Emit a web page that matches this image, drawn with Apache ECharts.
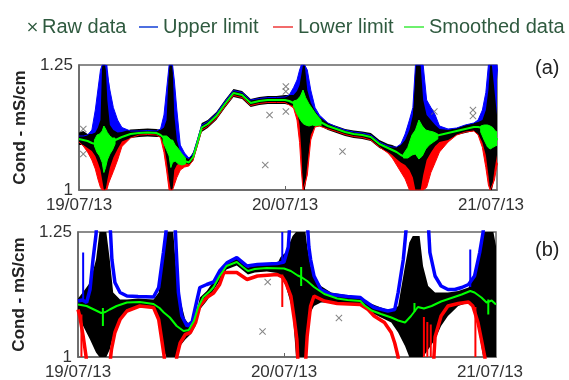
<!DOCTYPE html>
<html>
<head>
<meta charset="utf-8">
<script src="https://cdn.jsdelivr.net/npm/echarts@6/dist/echarts.min.js"></script>
<style>
  html, body { margin: 0; padding: 0; background: #fff; }
  #chart { width: 569px; height: 380px; }
</style>
</head>
<body>
<div id="chart"></div>
<script>
// hours since 19/07/13 00:00
const tickHours = [0, 24, 48];
const tickLabels = ['19/07/13', '20/07/13', '21/07/13'];

// ---- panel (a) : one time grid shared by all curves
const hoursA = [0, 0.5, 1, 1.5, 1.9, 2.2, 2.5, 2.7, 2.9, 3.1, 3.3, 3.6, 4, 4.5, 5, 6, 7, 8, 9, 9.5,
  9.9, 10.2, 10.5, 10.7, 10.9, 11.1, 11.4, 11.8, 12.3, 12.8, 13.3, 13.8, 14.3, 15, 16, 17, 18, 19, 20, 21,
  22, 23, 24, 24.5, 25, 25.4, 25.7, 25.9, 26.1, 26.3, 26.6, 27, 27.5, 28, 29, 30, 31, 32, 33, 34,
  35, 36, 36.5, 37, 37.5, 38, 38.5, 38.9, 39.2, 39.4, 39.6, 39.8, 40.1, 40.5, 41, 41.5, 42, 43, 44, 45,
  46, 46.5, 47, 47.4, 47.7, 47.9, 48.1, 48.4, 48.7, 49];
const smoothA = [1.102, 1.100, 1.098, 1.094, 1.092, 1.090, 1.088, 1.087, 1.086, 1.088,
  1.090, 1.094, 1.098, 1.102, 1.106, 1.112, 1.114, 1.115, 1.114, 1.110,
  1.104, 1.098, 1.090, 1.088, 1.084, 1.080, 1.074, 1.066, 1.058, 1.055,
  1.066, 1.095, 1.125, 1.132, 1.148, 1.172, 1.194, 1.190, 1.174, 1.178,
  1.180, 1.180, 1.180, 1.178, 1.174, 1.170, 1.168, 1.166, 1.164, 1.160,
  1.154, 1.148, 1.142, 1.137, 1.128, 1.122, 1.116, 1.112, 1.110, 1.106,
  1.092, 1.084, 1.080, 1.076, 1.070, 1.066, 1.072, 1.082, 1.092, 1.096,
  1.100, 1.102, 1.104, 1.106, 1.107, 1.108, 1.110, 1.114, 1.118, 1.122,
  1.126, 1.126, 1.124, 1.116, 1.110, 1.106, 1.104, 1.104, 1.102, 1.100];
const upperA = [1.108, 1.108, 1.110, 1.120, 1.160, 1.200, 1.240, 1.250, 1.250, 1.250,
  1.250, 1.200, 1.165, 1.140, 1.125, 1.118, 1.118, 1.119, 1.118, 1.122,
  1.150, 1.200, 1.250, 1.250, 1.250, 1.220, 1.160, 1.090, 1.074, 1.064,
  1.072, 1.100, 1.130, 1.137, 1.153, 1.177, 1.199, 1.195, 1.180, 1.183,
  1.185, 1.185, 1.186, 1.190, 1.205, 1.220, 1.240, 1.250, 1.250, 1.250,
  1.240, 1.200, 1.165, 1.150, 1.134, 1.126, 1.120, 1.116, 1.114, 1.110,
  1.096, 1.088, 1.086, 1.086, 1.092, 1.112, 1.140, 1.165, 1.250, 1.250,
  1.250, 1.250, 1.250, 1.180, 1.165, 1.150, 1.128, 1.122, 1.124, 1.130,
  1.134, 1.140, 1.160, 1.195, 1.250, 1.250, 1.250, 1.250, 1.250, 1.200];
const lowerA = [1.096, 1.088, 1.076, 1.060, 1.042, 1.022, 1.005, 1.000, 1.000, 1.000,
  1.000, 1.020, 1.037, 1.060, 1.087, 1.104, 1.110, 1.111, 1.110, 1.105,
  1.075, 1.040, 1.000, 1.000, 1.000, 1.010, 1.025, 1.040, 1.046, 1.048,
  1.060, 1.090, 1.120, 1.127, 1.143, 1.167, 1.189, 1.185, 1.169, 1.173,
  1.175, 1.175, 1.175, 1.170, 1.164, 1.140, 1.095, 1.040, 1.000, 1.000,
  1.030, 1.100, 1.126, 1.128, 1.122, 1.117, 1.111, 1.107, 1.105, 1.100,
  1.086, 1.074, 1.064, 1.050, 1.036, 1.022, 1.000, 1.000, 1.000, 1.000,
  1.000, 1.000, 1.000, 1.005, 1.035, 1.055, 1.076, 1.096, 1.110, 1.116,
  1.118, 1.110, 1.085, 1.045, 1.010, 1.000, 1.000, 1.020, 1.050, 1.060];
const rawHiA = [1.115, 1.118, 1.112, 1.112, 1.115, 1.125, 1.140, 1.250, 1.250, 1.250,
  1.180, 1.130, 1.120, 1.115, 1.116, 1.121, 1.122, 1.123, 1.122, 1.120,
  1.125, 1.140, 1.250, 1.250, 1.250, 1.150, 1.100, 1.075, 1.066, 1.062,
  1.076, 1.104, 1.134, 1.140, 1.156, 1.180, 1.202, 1.198, 1.182, 1.186,
  1.188, 1.188, 1.190, 1.190, 1.190, 1.198, 1.210, 1.230, 1.250, 1.250,
  1.200, 1.175, 1.158, 1.146, 1.134, 1.128, 1.122, 1.119, 1.117, 1.114,
  1.100, 1.092, 1.090, 1.086, 1.090, 1.100, 1.120, 1.150, 1.250, 1.250,
  1.250, 1.250, 1.180, 1.150, 1.140, 1.130, 1.122, 1.120, 1.124, 1.130,
  1.134, 1.136, 1.140, 1.160, 1.200, 1.250, 1.250, 1.200, 1.150, 1.130];
const rawLoA = [1.090, 1.090, 1.084, 1.078, 1.068, 1.055, 1.040, 1.020, 1.000, 1.000,
  1.020, 1.045, 1.065, 1.082, 1.097, 1.104, 1.106, 1.107, 1.106, 1.106,
  1.090, 1.060, 1.020, 1.000, 1.000, 1.040, 1.050, 1.055, 1.054, 1.051,
  1.058, 1.086, 1.116, 1.124, 1.140, 1.164, 1.186, 1.182, 1.166, 1.170,
  1.172, 1.172, 1.172, 1.170, 1.168, 1.158, 1.130, 1.080, 1.000, 1.000,
  1.050, 1.110, 1.128, 1.129, 1.120, 1.114, 1.108, 1.104, 1.102, 1.098,
  1.084, 1.076, 1.070, 1.062, 1.055, 1.050, 1.040, 1.025, 1.000, 1.000,
  1.000, 1.000, 1.030, 1.060, 1.075, 1.088, 1.096, 1.100, 1.110, 1.114,
  1.118, 1.112, 1.095, 1.070, 1.030, 1.000, 1.000, 1.040, 1.070, 1.080];
// [hour, low, high] of the noisy smoothed data round each spike
const greenNoiseA = [[1.8, 1.088, 1.1], [2.1, 1.075, 1.11], [2.4, 1.068, 1.112], [2.7, 1.055, 1.118],
  [2.9, 1.035, 1.128], [3.1, 1.045, 1.122], [3.3, 1.06, 1.115], [3.6, 1.072, 1.108], [3.9, 1.08, 1.104],
  [4.2, 1.092, 1.104], [9.8, 1.096, 1.108], [10.2, 1.08, 1.108], [10.5, 1.068, 1.104], [10.7, 1.045, 1.1],
  [10.9, 1.055, 1.1], [11.2, 1.058, 1.09], [11.6, 1.052, 1.082], [12.0, 1.05, 1.072], [12.4, 1.052, 1.064],
  [25.0, 1.166, 1.178], [25.4, 1.152, 1.18], [25.8, 1.14, 1.188], [26.1, 1.133, 1.2], [26.4, 1.13, 1.185],
  [26.8, 1.128, 1.172], [27.2, 1.13, 1.162], [27.6, 1.128, 1.152], [28.2, 1.128, 1.14],
  [37.8, 1.064, 1.072], [38.3, 1.064, 1.085], [38.8, 1.07, 1.11], [39.2, 1.072, 1.12], [39.6, 1.062, 1.14],
  [40.0, 1.068, 1.128], [40.4, 1.082, 1.12], [40.8, 1.09, 1.118], [41.3, 1.096, 1.116], [41.8, 1.102, 1.112],
  [46.8, 1.116, 1.128], [47.2, 1.1, 1.13], [47.6, 1.086, 1.13], [47.9, 1.082, 1.128], [48.2, 1.085, 1.125],
  [48.5, 1.088, 1.118], [48.8, 1.09, 1.115]];
const outliersA = [[0.5, 1.122], [0.5, 1.072], [24.1, 1.207], [24.1, 1.197], [24.1, 1.157], [22.2, 1.15],
  [21.7, 1.05], [30.7, 1.077], [41.4, 1.157], [45.9, 1.16], [45.9, 1.148]];

// ---- panel (b) : [hour, value] pairs
const smoothB = [[0, 1.105], [1, 1.102], [2.1, 1.093], [2.7, 1.088], [2.9, 1.085], [3.2, 1.09], [3.7, 1.095],
  [4.5, 1.102], [5.7, 1.109], [7.2, 1.11], [8.8, 1.106], [9.5, 1.098], [10, 1.089], [10.7, 1.079], [11.5, 1.062],
  [12.3, 1.052], [12.9, 1.054], [13.5, 1.072], [14, 1.1], [14.6, 1.12], [15.4, 1.132], [15.8, 1.14], [16.5, 1.162],
  [17.3, 1.182], [18.5, 1.19], [19.2, 1.18], [19.8, 1.172], [20.6, 1.176], [22, 1.178], [24, 1.177], [24.8, 1.172],
  [25.6, 1.163], [26, 1.16], [26.7, 1.152], [27.5, 1.14], [28.7, 1.126], [30.2, 1.117], [31.4, 1.114], [32.9, 1.112],
  [33.4, 1.103], [34.2, 1.093], [35.3, 1.086], [36.5, 1.079], [37.3, 1.073], [38.1, 1.069], [38.8, 1.082], [39.6, 1.1],
  [40.3, 1.097], [41.2, 1.102], [42.3, 1.111], [43.5, 1.118], [44.7, 1.125], [45.7, 1.132], [46.2, 1.129], [47, 1.119],
  [47.6, 1.109], [48.2, 1.113], [48.7, 1.105]];
const upperB = [[0, 1.112], [0.5, 1.114], [1.0, 1.109], [1.4, 1.135], [1.75, 1.195], [2.1, 1.245], [2.3, 1.3],
  [3.6, 1.3], [3.8, 1.245], [3.95, 1.195], [4.3, 1.149], [4.9, 1.129], [5.7, 1.122], [7, 1.121], [8.8, 1.12],
  [9.4, 1.139], [9.95, 1.209], [10.25, 1.25], [10.4, 1.3], [11.2, 1.3], [11.35, 1.25], [11.5, 1.195], [11.7, 1.129],
  [12.1, 1.082], [12.7, 1.062], [13.3, 1.07], [13.8, 1.109], [14.2, 1.139], [15, 1.145], [15.8, 1.15], [16.5, 1.172],
  [17.4, 1.189], [18.5, 1.199], [19.7, 1.182], [20.9, 1.185], [23.2, 1.187], [24.0, 1.19], [24.5, 1.22], [24.8, 1.3],
  [26.6, 1.3], [26.9, 1.22], [27.1, 1.195], [27.5, 1.162], [28.3, 1.135], [29.5, 1.125], [31.4, 1.121], [32.9, 1.119],
  [33.4, 1.112], [34.5, 1.099], [36.1, 1.092], [36.9, 1.095], [37.3, 1.129], [37.9, 1.195], [38.2, 1.25], [38.4, 1.3],
  [40.7, 1.3], [41.0, 1.209], [41.6, 1.162], [42.3, 1.142], [43.1, 1.135], [43.9, 1.135], [44.7, 1.139], [45.5, 1.145],
  [46.2, 1.162], [46.8, 1.209], [47.2, 1.25], [47.4, 1.3], [49, 1.3]];
const lowerB = [[0, 1.095], [0.2, 1.082], [0.6, 1.042], [0.95, 1.0], [1.1, 0.95], [3.6, 0.95], [3.8, 1.0],
  [3.9, 1.015], [4.3, 1.049], [4.9, 1.075], [5.7, 1.092], [7.2, 1.102], [8.8, 1.099], [9.4, 1.075], [9.75, 1.035],
  [10.05, 1.0], [10.2, 0.95], [11.3, 0.95], [11.5, 1.0], [11.9, 1.028], [12.5, 1.045], [13.1, 1.049], [13.7, 1.069],
  [14.2, 1.102], [15.0, 1.119], [15.8, 1.128], [16.5, 1.145], [17.0, 1.169], [18.5, 1.169], [19.7, 1.155],
  [20.9, 1.162], [23.2, 1.165], [23.8, 1.16], [24.2, 1.149], [24.8, 1.122], [25.2, 1.075], [25.5, 1.035],
  [25.6, 1.0], [25.7, 0.95], [26.4, 0.95], [26.55, 1.0], [26.7, 1.042], [27.1, 1.102], [27.5, 1.122], [28.7, 1.112],
  [30.2, 1.107], [32.9, 1.105], [33.8, 1.095], [34.5, 1.082], [35.7, 1.069], [36.5, 1.049], [36.9, 1.028],
  [37.3, 1.0], [37.5, 0.95], [41.3, 0.95], [41.6, 1.04], [42.3, 1.082], [43.1, 1.102], [44.3, 1.107], [45.5, 1.11],
  [46.0, 1.102], [46.6, 1.069], [47.0, 1.035], [47.4, 1.0], [47.6, 0.95], [49, 0.95]];
const rawHoursB = [0, 0.6, 1.4, 2.1, 2.5, 3.3, 3.7, 4.1, 4.9, 5.7, 7, 8.8, 9.4, 9.95, 10.3, 11.1, 11.5, 11.9, 12.5,
  13.1, 13.7, 14.2, 15, 16.5, 17.3, 18.5, 19.8, 20.6, 22, 23.2, 23.6, 24.2, 25, 25.4, 26.5, 26.7, 27.1, 27.5,
  28.3, 29.5, 32.9, 33.8, 35.3, 36.5, 37.3, 38.1, 38.6, 39, 39.8, 40.2, 40.8, 41.6, 42.3, 43.1, 44.3, 45.5, 46,
  46.6, 47.2, 48.4, 48.7];
const rawHiB = [1.117, 1.13, 1.149, 1.195, 1.25, 1.25, 1.195, 1.129, 1.115, 1.115, 1.117, 1.115, 1.129, 1.195,
  1.25, 1.25, 1.162, 1.115, 1.075, 1.062, 1.082, 1.119, 1.132, 1.169, 1.189, 1.197, 1.179, 1.183, 1.185, 1.186,
  1.2, 1.209, 1.242, 1.25, 1.25, 1.222, 1.182, 1.162, 1.142, 1.129, 1.119, 1.109, 1.099, 1.092, 1.102, 1.182,
  1.229, 1.242, 1.242, 1.182, 1.142, 1.129, 1.129, 1.129, 1.132, 1.139, 1.155, 1.195, 1.25, 1.25, 1.222];
const rawLoB = [1.089, 1.062, 1.035, 1.009, 1.0, 1.0, 1.015, 1.042, 1.075, 1.095, 1.102, 1.1, 1.069, 1.015,
  1.0, 1.0, 1.0, 1.022, 1.035, 1.045, 1.062, 1.095, 1.112, 1.152, 1.175, 1.183, 1.165, 1.169, 1.171, 1.168,
  1.162, 1.142, 1.095, 1.0, 1.0, 1.042, 1.089, 1.102, 1.109, 1.109, 1.105, 1.092, 1.079, 1.069, 1.049, 1.022,
  1.0, 1.0, 1.0, 1.0, 1.015, 1.035, 1.062, 1.082, 1.102, 1.109, 1.102, 1.062, 1.0, 1.0, 1.0];
const greenNoiseB = [[2.9, 1.062, 1.098], [26.0, 1.142, 1.18], [39.2, 1.09, 1.108], [47.8, 1.085, 1.115]];
const blueNoiseB = [[0.6, 1.115, 1.209], [23.8, 1.19, 1.25], [45.7, 1.14, 1.215]];
const redNoiseB = [[0.4, 1.0, 1.085], [23.8, 1.1, 1.165], [40.3, 1.0, 1.08], [40.7, 1.0, 1.07],
  [41.1, 1.0, 1.065], [46.3, 1.0, 1.1]];
const outliersB = [[22.1, 1.15], [21.5, 1.051], [30.4, 1.078]];

const BLUE = '#0000ff', RED = '#ff0000', GREEN = '#00ff00';
const X_ICON = 'path://M0,1L1,0L5,4L9,0L10,1L6,5L10,9L9,10L5,6L1,10L0,9L4,5Z';
const FONT = 'Liberation Sans';

function zip(t, v) { return t.map((h, i) => [h, v[i]]); }

// filled area between two curves
function band(name, g, top, bottom, color) {
  return {
    type: 'custom', name, xAxisIndex: g, yAxisIndex: g, clip: true, silent: true,
    data: [top[0]],
    renderItem(params, api) {
      const pts = top.map(p => api.coord(p))
        .concat(bottom.slice().reverse().map(p => api.coord(p)));
      return { type: 'polygon', shape: { points: pts }, style: { fill: color } };
    }
  };
}
// [hour, low, high] runs, one filled blob per run (a gap > 1.5 h starts a new one)
function blobs(name, g, triples, color) {
  const runs = [];
  triples.forEach((p, i) => {
    if (i === 0 || p[0] - triples[i - 1][0] > 1.5) runs.push([]);
    runs[runs.length - 1].push(p);
  });
  return {
    type: 'custom', name, xAxisIndex: g, yAxisIndex: g, clip: true, silent: true,
    data: [triples[0]], encode: { x: 0, y: [1, 2] },
    renderItem(params, api) {
      return {
        type: 'group',
        children: runs.map(r => ({
          type: 'polygon',
          shape: { points: r.map(p => api.coord([p[0], p[2]])).concat(r.slice().reverse().map(p => api.coord([p[0], p[1]]))) },
          style: { fill: color, stroke: color, lineWidth: 1 }
        }))
      };
    }
  };
}
function line(name, g, data, color, width) {
  return {
    type: 'line', name, xAxisIndex: g, yAxisIndex: g, data, symbol: 'none', silent: true,
    clip: true, lineStyle: { color, width }, itemStyle: { color }
  };
}
// vertical noise strokes [hour, low, high]
function strokes(name, g, data, color, width) {
  return {
    type: 'custom', name, xAxisIndex: g, yAxisIndex: g, clip: true, silent: true,
    data, encode: { x: 0, y: [1, 2] },
    renderItem(params, api) {
      const a = api.coord([api.value(0), api.value(1)]);
      const b = api.coord([api.value(0), api.value(2)]);
      return { type: 'line', shape: { x1: a[0], y1: a[1], x2: b[0], y2: b[1] }, style: { stroke: color, lineWidth: width } };
    }
  };
}
function marks(g, data) {
  return {
    type: 'scatter', name: 'Raw data', xAxisIndex: g, yAxisIndex: g, data, silent: true,
    symbol: X_ICON, symbolSize: 7, itemStyle: { color: '#666' }
  };
}

const smoothAP = zip(hoursA, smoothA), upperAP = zip(hoursA, upperA), lowerAP = zip(hoursA, lowerA);
const rawHiAP = zip(hoursA, rawHiA), rawLoAP = zip(hoursA, rawLoA);
const rawHiBP = zip(rawHoursB, rawHiB), rawLoBP = zip(rawHoursB, rawLoB);

const grids = [
  { left: 79, top: 65, width: 418, height: 125 },
  { left: 78, top: 232, width: 418, height: 125 }
];

function xAxis(g) {
  return {
    type: 'value', gridIndex: g, min: 0, max: 48.7, interval: 24,
    axisLine: { show: true, lineStyle: { color: '#666', width: 1.5 } },
    axisTick: { show: true, inside: true, length: 4, lineStyle: { color: '#666' } },
    splitLine: { show: false },
    axisLabel: {
      fontSize: 17, color: '#333', fontFamily: FONT, margin: 7, showMaxLabel: false,
      formatter: v => { const i = tickHours.indexOf(v); return i < 0 ? '' : tickLabels[i]; }
    }
  };
}
function yAxis(g) {
  return {
    type: 'value', gridIndex: g, min: 1, max: 1.25, interval: 0.25,
    name: 'Cond - mS/cm', nameLocation: 'middle', nameGap: 50,
    nameTextStyle: { fontSize: 17, fontWeight: 'bold', color: '#222', fontFamily: FONT },
    axisLine: { show: true, lineStyle: { color: '#666', width: 1.5 } },
    axisTick: { show: false }, splitLine: { show: false },
    axisLabel: { fontSize: 17, color: '#333', fontFamily: FONT, margin: 6 }
  };
}

const legendText = { fontFamily: FONT, fontSize: 20, color: '#2f5a3f' };
function legend(name, left, icon, color, w, h) {
  return {
    data: [{ name, icon, itemStyle: { color } }], left, top: 17, itemWidth: w, itemHeight: h,
    selectedMode: false, padding: 0, textStyle: legendText
  };
}

const chart = echarts.init(document.getElementById('chart'));
chart.setOption({
  animation: false,
  backgroundColor: '#fff',
  title: [
    { text: '(a)', left: 535, top: 58, padding: 0, textStyle: { fontSize: 20, fontWeight: 'normal', color: '#222', fontFamily: FONT } },
    { text: '(b)', left: 535, top: 240, padding: 0, textStyle: { fontSize: 20, fontWeight: 'normal', color: '#222', fontFamily: FONT } }
  ],
  legend: [
    legend('Raw data', 28, X_ICON, '#2f5a3f', 9, 9),
    legend('Upper limit', 139, 'rect', '#4d6fe0', 19, 2),
    legend('Lower limit', 273, 'rect', '#f26b6b', 20, 2),
    legend('Smoothed data', 404, 'rect', '#6ef06e', 20, 2)
  ],
  grid: grids.map(g => Object.assign({ show: true, borderColor: '#666', borderWidth: 1.5, outerBoundsMode: 'none' }, g)),
  xAxis: [xAxis(0), xAxis(1)],
  yAxis: [yAxis(0), yAxis(1)],
  series: [
    // panel (a)
    band('Upper limit', 0, upperAP, smoothAP, BLUE),
    band('Lower limit', 0, smoothAP, lowerAP, RED),
    band('Raw data', 0, rawHiAP, rawLoAP, '#000'),
    line('Upper limit', 0, upperAP, BLUE, 1),
    line('Lower limit', 0, lowerAP, RED, 1),
    blobs('Smoothed data', 0, greenNoiseA, GREEN),
    line('Smoothed data', 0, smoothAP, GREEN, 2),
    marks(0, outliersA),
    // panel (b)
    band('Raw data', 1, rawHiBP, rawLoBP, '#000'),
    strokes('Upper limit', 1, blueNoiseB, BLUE, 2),
    strokes('Lower limit', 1, redNoiseB, RED, 2),
    line('Upper limit', 1, upperB, BLUE, 3.5),
    line('Lower limit', 1, lowerB, RED, 3.5),
    strokes('Smoothed data', 1, greenNoiseB, GREEN, 2),
    line('Smoothed data', 1, smoothB, GREEN, 2),
    marks(1, outliersB)
  ]
});
</script>
</body>
</html>
